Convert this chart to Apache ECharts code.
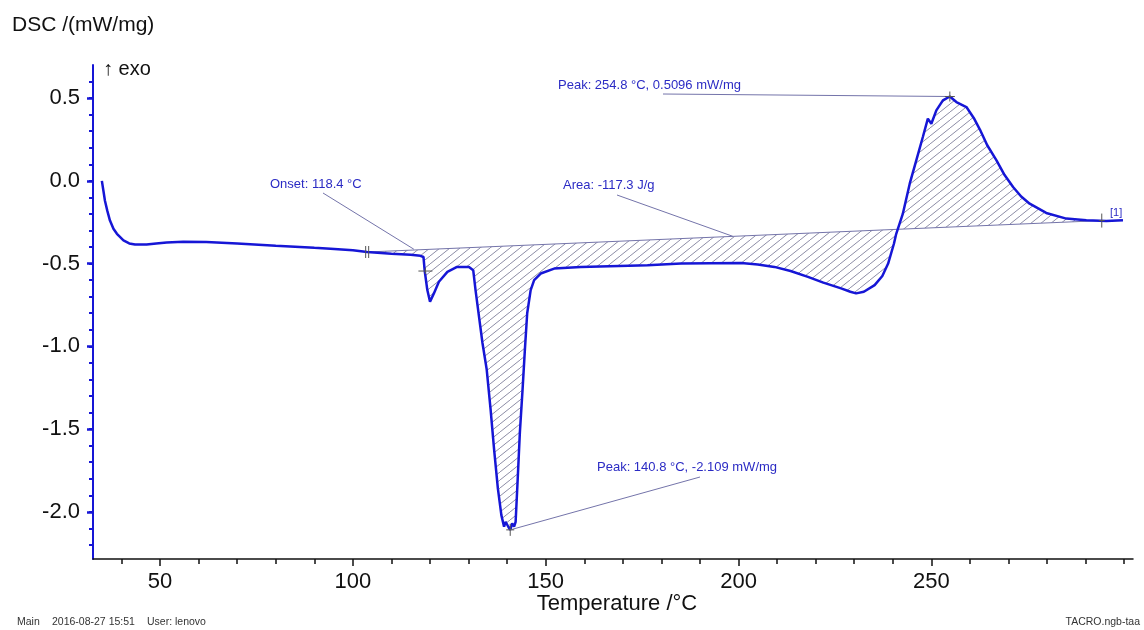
<!DOCTYPE html>
<html>
<head>
<meta charset="utf-8">
<script src="https://cdn.jsdelivr.net/npm/echarts@6/dist/echarts.min.js"></script>
<style>
  html, body { margin: 0; padding: 0; background: #fff; }
  #dsc { width: 1144px; height: 630px; }
</style>
</head>
<body>
<div id="dsc"></div>
<script>
  // DSC curve (temperature °C / mW/mg)
  var temp = [34.9, 35.3, 35.7, 36.3, 37.0, 37.9, 38.8, 40.5, 42.0, 43.5, 46.5, 49.0, 51.7, 56, 62, 70, 80, 90, 94.2, 100,
    103.7, 110, 115, 117.5, 118.3, 118.6, 119.3, 120.0, 120.5, 121.0, 122.3, 124.5, 127.0, 130.1, 131.2, 131.8,
    132.7, 133.6, 134.7, 135.7, 136.6, 137.6, 138.5, 139.2, 139.6, 140.3, 140.8, 141.3, 141.8, 142.2, 142.7,
    143.3, 144.0, 144.6, 145.2, 146.1, 147.0, 148.7, 152.2, 159.1, 176.4, 185.1, 200.7, 205, 209.3, 213.5, 218,
    222, 226.6, 229, 230.5, 232.5, 235.3, 237.3, 238.8, 240.3, 240.9, 242.6, 244.4, 246.1, 247.8, 249.1, 250.0,
    251.3, 253.0, 254.8, 256.5, 259.1, 261.0, 262.6, 264.5, 266.9, 269.0, 271.2, 273.3, 275.5, 279.8, 285.0, 290.2, 295.4, 299.7]
  var dsc = [0.00, -0.06, -0.12, -0.18, -0.24, -0.29, -0.32, -0.36, -0.378, -0.385, -0.385, -0.378, -0.372, -0.368, -0.370, -0.378, -0.392, -0.405, -0.41, -0.42,
    -0.43, -0.44, -0.447, -0.453, -0.46, -0.54, -0.66, -0.73, -0.72, -0.68, -0.61, -0.55, -0.52, -0.52, -0.54, -0.66,
    -0.82, -0.98, -1.14, -1.38, -1.62, -1.86, -2.02, -2.09, -2.06, -2.09, -2.109, -2.07, -2.09, -2.06, -1.82,
    -1.52, -1.26, -1.02, -0.80, -0.66, -0.60, -0.56, -0.53, -0.52, -0.51, -0.50, -0.496, -0.505, -0.52, -0.545, -0.58,
    -0.615, -0.65, -0.67, -0.68, -0.67, -0.63, -0.575, -0.50, -0.38, -0.32, -0.20, -0.017, 0.124, 0.265, 0.376, 0.345,
    0.426, 0.486, 0.5096, 0.476, 0.446, 0.38, 0.31, 0.215, 0.124, 0.035, -0.037, -0.095, -0.138, -0.194, -0.228, -0.238, -0.242, -0.238]

  // integration baseline end points
  var baseStart = [103.7, -0.43]
  var baseEnd = [294.2, -0.24]

  // evaluation points
  var onsetPoint = [118.8, -0.545]
  var onsetLeader = [115.8, -0.413]
  var areaLeader = [198.5, -0.335]
  var peakHigh = [254.8, 0.5096]
  var peakLow = [140.8, -2.109]

  var xTickValues = [40, 50, 60, 70, 80, 90, 100, 110, 120, 130, 140, 150, 160, 170, 180, 190, 200, 210, 220, 230, 240, 250, 260, 270, 280, 290, 300]
  var xLabelValues = [50, 100, 150, 200, 250]
  var yTickValues = [-2.2, -2.1, -2.0, -1.9, -1.8, -1.7, -1.6, -1.5, -1.4, -1.3, -1.2, -1.1, -1.0, -0.9, -0.8, -0.7, -0.6,
    -0.5, -0.4, -0.3, -0.2, -0.1, 0.0, 0.1, 0.2, 0.3, 0.4, 0.5, 0.6]
  var yLabelValues = [-2.0, -1.5, -1.0, -0.5, 0.0, 0.5]

  var FONT = '"Liberation Sans", Arial, sans-serif'
  var BLUE = '#1616d6'
  var NOTE = '#2b2bc4'
  var LEAD = '#7474aa'

  // hatch tile for the peak area
  var tile = document.createElement('canvas')
  tile.width = 10
  tile.height = 8
  var tc = tile.getContext('2d')
  tc.strokeStyle = '#8c8ca6'
  tc.lineWidth = 1
  tc.beginPath()
  for (var k = -1; k <= 1; k++) {
    tc.moveTo(k * 10, 8)
    tc.lineTo(k * 10 + 10, 0)
  }
  tc.stroke()

  var curve = []
  for (var i = 0; i < temp.length; i++) curve.push([temp[i], dsc[i]])

  var myChart = echarts.init(document.getElementById('dsc'))
  var option = {
    animation: false,
    backgroundColor: '#fff',
    grid: { left: 93, right: 11, top: 65, bottom: 71 },
    xAxis: [{
      type: 'value', min: 32.6, max: 302.3,
      axisLine: { show: true, onZero: false, lineStyle: { color: '#111', width: 1.5 } },
      axisTick: { show: true, length: 5, customValues: xTickValues, lineStyle: { color: '#111', width: 1.5 } },
      axisLabel: { customValues: xLabelValues, fontSize: 22, color: '#111', fontFamily: FONT, margin: 12 },
      splitLine: { show: false }
    }, {
      type: 'value', min: 32.6, max: 302.3, position: 'bottom',
      axisLine: { show: false, onZero: false },
      axisTick: { show: true, length: 7, customValues: xLabelValues, lineStyle: { color: '#111', width: 1.5 } },
      axisLabel: { show: false },
      splitLine: { show: false }
    }],
    yAxis: [{
      type: 'value', min: -2.285, max: 0.70,
      axisLine: { show: true, onZero: false, lineStyle: { color: BLUE, width: 2 } },
      axisTick: { show: true, length: 4, customValues: yTickValues, lineStyle: { color: BLUE, width: 2 } },
      axisLabel: {
        customValues: yLabelValues, fontSize: 22, color: '#111', fontFamily: FONT, margin: 13,
        formatter: function (v) { return v.toFixed(1) }
      },
      splitLine: { show: false }
    }, {
      type: 'value', min: -2.285, max: 0.70, position: 'left',
      axisLine: { show: false, onZero: false },
      axisTick: { show: true, length: 6, customValues: yLabelValues, lineStyle: { color: BLUE, width: 2.5 } },
      axisLabel: { show: false },
      splitLine: { show: false }
    }],
    series: [
      {
        // hatched area between curve and baseline
        type: 'custom',
        silent: true,
        z: 1,
        data: [0],
        renderItem: function (params, api) {
          var pts = [api.coord(baseStart)]
          for (var j = 0; j < temp.length; j++) {
            if (temp[j] > baseStart[0] && temp[j] < baseEnd[0]) pts.push(api.coord([temp[j], dsc[j]]))
          }
          pts.push(api.coord(baseEnd))
          return {
            type: 'polygon',
            shape: { points: pts },
            style: { fill: { image: tile, repeat: 'repeat' }, stroke: null }
          }
        }
      },
      {
        name: 'baseline',
        type: 'line',
        z: 2,
        symbol: 'none',
        data: [baseStart, baseEnd],
        lineStyle: { color: LEAD, width: 1 }
      },
      {
        name: 'DSC',
        type: 'line',
        z: 3,
        symbol: 'none',
        data: curve,
        lineStyle: { color: BLUE, width: 2.5 }
      }
    ]
  }
  myChart.setOption(option)

  function px(p) { return myChart.convertToPixel({ gridIndex: 0 }, p) }

  function note(text, x, y) {
    return { type: 'text', x: x, y: y, style: { text: text, fill: NOTE, font: '13px ' + FONT, textVerticalAlign: 'middle' }, z: 10 }
  }
  function seg(a, b, color) {
    return { type: 'line', shape: { x1: a[0], y1: a[1], x2: b[0], y2: b[1] }, style: { stroke: color || LEAD, lineWidth: 1 }, z: 9 }
  }
  function cross(p, w, h) {
    return [seg([p[0] - w, p[1]], [p[0] + w, p[1]], '#555'), seg([p[0], p[1] - h], [p[0], p[1] + h], '#555')]
  }

  var pOnset = px(onsetPoint), pOnsetL = px(onsetLeader), pArea = px(areaLeader)
  var pHigh = px(peakHigh), pLow = px(peakLow), pB0 = px(baseStart), pB1 = px(baseEnd)

  var g = [
    { type: 'text', x: 12, y: 25, style: { text: 'DSC /(mW/mg)', fill: '#111', font: '21px ' + FONT, textVerticalAlign: 'middle' } },
    { type: 'text', x: 103, y: 69, style: { text: '\u2191 exo', fill: '#111', font: '20px ' + FONT, textVerticalAlign: 'middle' } },
    { type: 'text', x: 617, y: 604, style: { text: 'Temperature /\u00b0C', fill: '#111', font: '22px ' + FONT, textAlign: 'center', textVerticalAlign: 'middle' } },
    { type: 'text', x: 17, y: 622, style: { text: 'Main', fill: '#333', font: '10.5px ' + FONT, textVerticalAlign: 'middle' } },
    { type: 'text', x: 52, y: 622, style: { text: '2016-08-27 15:51', fill: '#333', font: '10.5px ' + FONT, textVerticalAlign: 'middle' } },
    { type: 'text', x: 147, y: 622, style: { text: 'User: lenovo', fill: '#333', font: '10.5px ' + FONT, textVerticalAlign: 'middle' } },
    { type: 'text', x: 1140, y: 622, style: { text: 'TACRO.ngb-taa', fill: '#333', font: '10.5px ' + FONT, textAlign: 'right', textVerticalAlign: 'middle' } },

    note('Onset: 118.4 \u00b0C', 270, 184),
    seg([323, 193], pOnsetL),
    note('Area: -117.3 J/g', 563, 185),
    seg([617, 195], pArea),
    note('Peak: 254.8 \u00b0C, 0.5096 mW/mg', 558, 85),
    seg([663, 94], pHigh),
    note('Peak: 140.8 \u00b0C, -2.109 mW/mg', 597, 467),
    seg([700, 477], pLow),
    { type: 'text', x: 1110, y: 213, style: { text: '[1]', fill: NOTE, font: '11px ' + FONT, textVerticalAlign: 'middle' }, z: 10 },
    seg([pB0[0] - 1.5, pB0[1] - 6], [pB0[0] - 1.5, pB0[1] + 6], '#555'),
    seg([pB0[0] + 1.5, pB0[1] - 6], [pB0[0] + 1.5, pB0[1] + 6], '#555')
  ]
  g = g.concat(cross(pOnset, 7, 3), cross(pHigh, 5, 5), cross(pLow, 4, 6), cross(pB1, 3, 7))
  myChart.setOption({ graphic: g })

  window.addEventListener('resize', function () {
    myChart.resize()
  })
</script>
</body>
</html>
